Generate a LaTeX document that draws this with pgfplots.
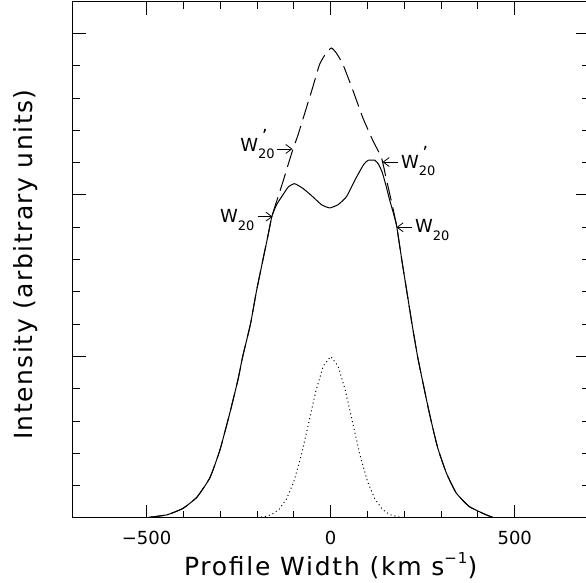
\documentclass[border=0pt]{standalone}
\usepackage{fontspec}
\setmainfont{DejaVu Sans}
\usepackage{pgfplots}
\pgfplotsset{compat=1.18}
\usetikzlibrary{arrows.meta}
\newcommand{\Wsub}{W\raisebox{-0.4em}{\fontsize{6.5}{7}\selectfont 20}}
\newcommand{\Wprime}{W\rlap{\raisebox{0.45em}{\fontsize{9}{9}\selectfont\kern0.2em'}}\raisebox{-0.4em}{\fontsize{6.5}{7}\selectfont 20}}
\begin{document}
\begin{tikzpicture}
\begin{axis}[
  at={(0,0)}, anchor=south west,
  scale only axis, width=257.7pt, height=258pt,
  xmin=-700, xmax=700, ymin=0, ymax=3.195,
  xtick={-500,0,500}, xticklabels={−500,0,500},
  minor x tick num=4,
  ytick={0,1,2,3}, yticklabels={}, minor y tick num=4,
  major tick length=6.3pt, minor tick length=3.3pt,
  tick align=inside,
  tick style={black, line width=0.5pt},
  axis line style={line width=0.5pt},
  xticklabel style={font=\fontsize{9}{9}\selectfont, anchor=base, yshift=-13.5pt},
  xlabel={\addfontfeature{LetterSpace=7}Profile Width (km s\raisebox{0.45em}{\fontsize{7.5}{8}\selectfont −1})},
  xlabel style={at={(axis description cs:0.5,-0.1105)}, anchor=base, font=\fontsize{12.5}{13}\selectfont},
  ylabel={\addfontfeature{LetterSpace=6}Intensity (arbitrary units)},
  ylabel style={at={(axis description cs:-0.078,0.491)}, anchor=base, font=\fontsize{12.5}{13}\selectfont},
]
% dotted (instrumental) profile
\addplot[black, line width=0.5pt, dash pattern=on 0.5pt off 1.5pt] coordinates {
(-200,0.003) (-180,0.008) (-160,0.022) (-140,0.054) (-120,0.118) (-100,0.226)
(-80,0.386) (-60,0.586) (-40,0.788) (-20,0.942) (0,1.0) (20,0.942) (40,0.788)
(60,0.586) (80,0.386) (100,0.226) (120,0.118) (140,0.054) (160,0.022) (180,0.008) (200,0.003)};
% dashed profile
\addplot[black, line width=0.5pt, dash pattern=on 9pt off 3.5pt, smooth, tension=0.3] coordinates {
(-500,0) (-490,0.005) (-444,0.02) (-401,0.06) (-363,0.13) (-328,0.25) (-301,0.42)
(-274,0.65) (-252,0.855) (-239,1.0) (-218,1.2) (-202,1.4) (-184,1.60) (-172,1.73)
(-160,1.865) (-147,1.96) (-130,2.08) (-118,2.17) (-103,2.28) (-89,2.37) (-70,2.51)
(-51,2.65) (-30,2.81) (-12,2.88) (2,2.91) (15,2.88) (33,2.81) (60,2.65) (87,2.48)
(114,2.34) (138,2.23) (150,2.11) (165,1.96) (179,1.81) (193,1.60) (207,1.40)
(221,1.20) (236,1.00) (249,0.855) (268,0.65) (290,0.44) (314,0.28) (341,0.155)
(377,0.07) (422,0.02) (445,0)};
% solid observed profile
\addplot[black, line width=0.5pt, smooth, tension=0.3] coordinates {
(-500,0) (-490,0.005) (-444,0.02) (-401,0.06) (-363,0.13) (-328,0.25) (-301,0.42)
(-274,0.65) (-252,0.855) (-239,1.0) (-218,1.2) (-202,1.4) (-184,1.60) (-172,1.73)
(-160,1.865) (-147,1.94) (-130,2.0) (-115,2.05) (-98,2.07) (-75,2.04) (-49,1.99)
(-25,1.94) (-3,1.92) (20,1.94) (43,1.99) (70,2.11) (90,2.19) (102,2.215) (120,2.215)
(130,2.19) (140,2.14) (150,2.06) (160,1.97) (170,1.89) (179,1.81) (193,1.60)
(207,1.40) (221,1.20) (236,1.00) (249,0.855) (268,0.65) (290,0.44) (314,0.28)
(341,0.155) (377,0.07) (422,0.02) (445,0)};
% bottom axis thicker
\draw[line width=1pt] (rel axis cs:0,0) -- (rel axis cs:1,0);
% annotations
\draw[-{Straight Barb[length=3pt,width=4.5pt]}, line width=0.4pt] (axis cs:-146,2.285) -- (axis cs:-104,2.285);
\node[anchor=base east, inner sep=0pt, font=\fontsize{9}{9}\selectfont] at (axis cs:-151,2.272) {\Wprime};
\draw[-{Straight Barb[length=3pt,width=4.5pt]}, line width=0.4pt] (axis cs:-198,1.866) -- (axis cs:-158,1.866);
\node[anchor=base east, inner sep=0pt, font=\fontsize{9}{9}\selectfont] at (axis cs:-206,1.827) {\Wsub};
\draw[-{Straight Barb[length=3pt,width=4.5pt]}, line width=0.4pt] (axis cs:182,2.204) -- (axis cs:141,2.204);
\node[anchor=base west, inner sep=0pt, font=\fontsize{9}{9}\selectfont] at (axis cs:190,2.167) {\Wprime};
\draw[-{Straight Barb[length=3pt,width=4.5pt]}, line width=0.4pt] (axis cs:222,1.80) -- (axis cs:179,1.80);
\node[anchor=base west, inner sep=0pt, font=\fontsize{9}{9}\selectfont] at (axis cs:228,1.765) {\Wsub};
\end{axis}
\pgfresetboundingbox
\path[use as bounding box] (-36.5pt,-32.5pt) rectangle (256.5pt,259pt);
\end{tikzpicture}
\end{document}
